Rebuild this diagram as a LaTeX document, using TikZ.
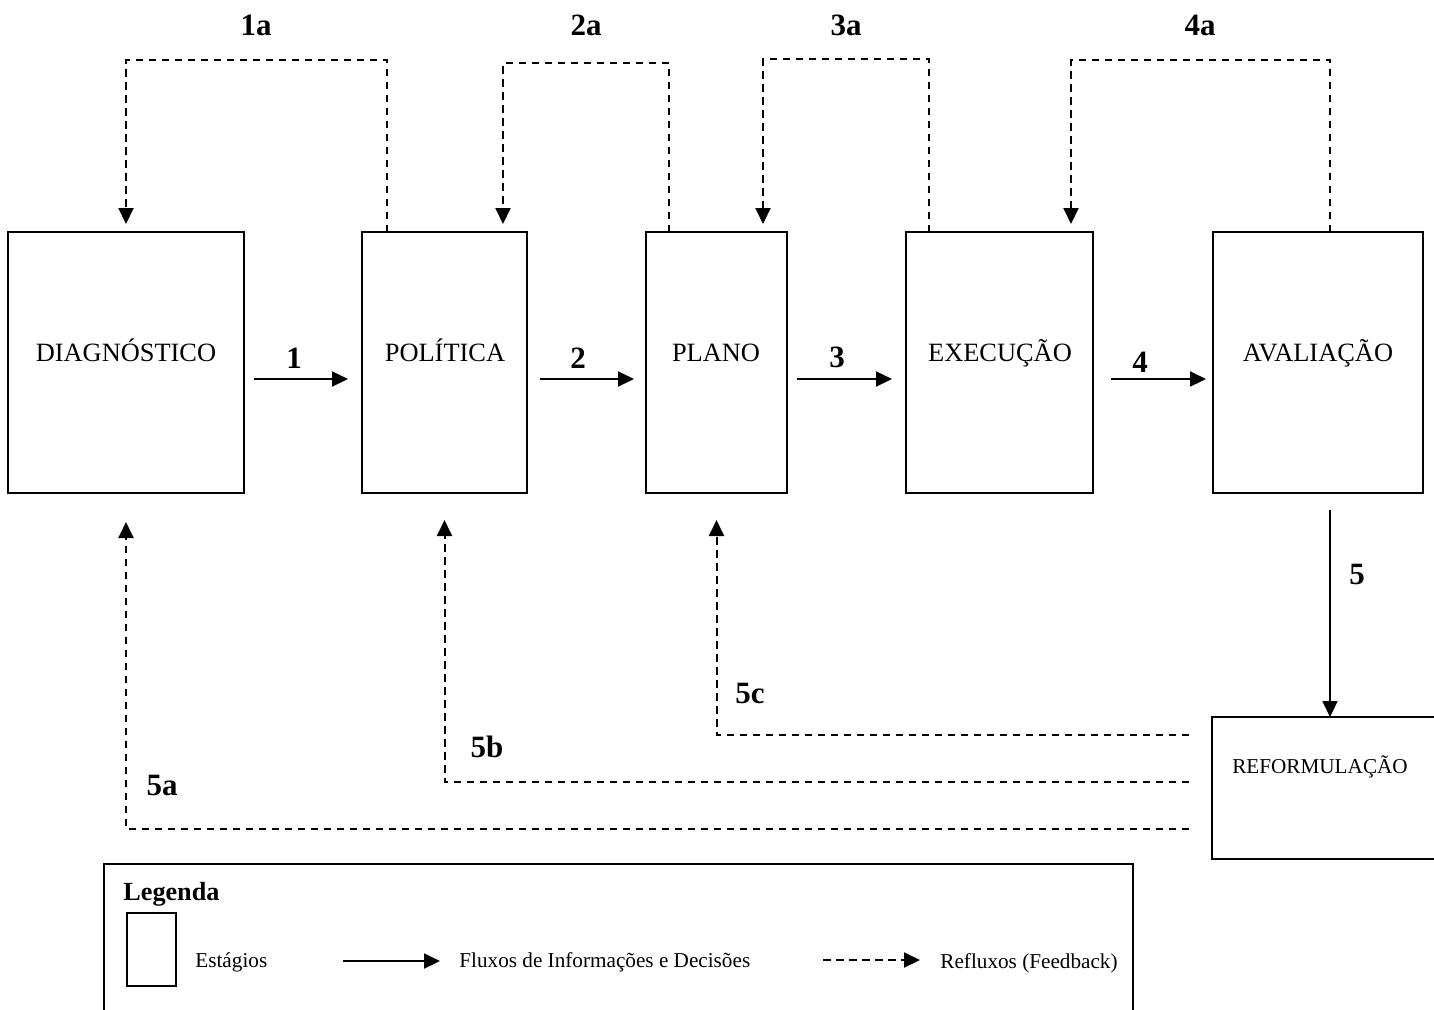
\documentclass[tikz,border=0pt]{standalone}
\usepackage{fontspec}
\setmainfont{Liberation Serif}
\usetikzlibrary{arrows.meta,calc}
\begin{document}
\begin{tikzpicture}[x=0.5pt,y=-0.5pt,
  stage/.style={draw, line width=1pt, inner sep=0pt, outer sep=0pt, rectangle},
  stagetxt/.style={font=\fontsize{13.2}{15}\selectfont, inner sep=0pt, anchor=base},
  numlbl/.style={font=\fontsize{15.5}{18}\selectfont\bfseries, inner sep=0pt, anchor=base},
  flow/.style={line width=1pt, -{Triangle[length=8pt,width=7.5pt]}},
  fb/.style={line width=1pt, dash pattern=on 3.75pt off 2.75pt, -{Triangle[length=8pt,width=7.5pt]}},
  legtxt/.style={font=\fontsize{10.6}{12.5}\selectfont, inner sep=0pt, anchor=base west}]
\useasboundingbox (0,0) rectangle (1434,1009);
\clip (0,0) rectangle (1434,1009);

% stages
\node[stage, minimum width=118pt, minimum height=130.5pt] (diag) at (126,362.5) {};
\node[stage, minimum width=82.5pt, minimum height=130.5pt] (pol) at (444.5,362.5) {};
\node[stage, minimum width=70.5pt, minimum height=130.5pt] (plano) at (716.5,362.5) {};
\node[stage, minimum width=93.5pt, minimum height=130.5pt] (exec) at (999.5,362.5) {};
\node[stage, minimum width=105pt, minimum height=130.5pt] (aval) at (1318,362.5) {};
\node[stage, minimum width=114pt, minimum height=71pt] (reform) at (1326,788) {};

\node[stagetxt] (diagT) at (126,361) {DIAGNÓSTICO};
\node[stagetxt] (polT) at (445,361) {POLÍTICA};
\node[stagetxt] (planoT) at (716,361) {PLANO};
\node[stagetxt] (execT) at (1000,361) {EXECUÇÃO};
\node[stagetxt] (avalT) at (1318,361) {AVALIAÇÃO};
\node[stagetxt, font=\fontsize{10.6}{12}\selectfont] (reformT) at (1320,773) {REFORMULAÇÃO};

% main flows
\draw[flow] ($(diag.east)+(10,16.5)$) -- ($(pol.west)+(-14,16.5)$);
\draw[flow] ($(pol.east)+(13,16.5)$) -- ($(plano.west)+(-12,16.5)$);
\draw[flow] ($(plano.east)+(10,16.5)$) -- ($(exec.west)+(-14,16.5)$);
\draw[flow] ($(exec.east)+(18,16.5)$) -- ($(aval.west)+(-7,16.5)$);
\draw[flow] ($(aval.south)+(12,17)$) -- ($(reform.north)+(4,0)$);

\node[numlbl] (l1) at (294,368) {1};
\node[numlbl] (l2) at (578,368) {2};
\node[numlbl] (l3) at (837,367) {3};
\node[numlbl] (l4) at (1140,372) {4};
\node[numlbl] (l5) at (1357,584) {5};

% top feedbacks
\draw[fb] ($(pol.north west)+(25,0)$) -- ++(0,-172) -| ($(diag.north)+(0,-8)$);
\draw[fb] ($(plano.north west)+(23,0)$) -- ++(0,-169) -| ($(pol.north)+(58.5,-8)$);
\draw[fb] ($(exec.north west)+(23,0)$) -- ++(0,-173) -| ($(plano.north)+(46.5,-8)$);
\draw[fb] ($(aval.north west)+(117,0)$) -- ++(0,-172) -| ($(exec.north)+(71.5,-8)$);

\node[numlbl] (l1a) at (256,35) {1a};
\node[numlbl] (l2a) at (586,35) {2a};
\node[numlbl] (l3a) at (846,35) {3a};
\node[numlbl] (l4a) at (1200,35) {4a};

% bottom feedbacks
\draw[fb] ($(reform.west)+(-23,-53)$) -| ($(plano.south)+(0,27)$);
\draw[fb] ($(reform.west)+(-23,-6)$) -| ($(pol.south)+(0,27)$);
\draw[fb] ($(reform.west)+(-23,41)$) -| ($(diag.south)+(0,29)$);

\node[numlbl] (l5a) at (162,795) {5a};
\node[numlbl] (l5b) at (487,757) {5b};
\node[numlbl] (l5c) at (750,703) {5c};

% legend
\node[draw, line width=1pt, inner sep=0pt, outer sep=0pt, minimum width=514.5pt, minimum height=100pt] (legend) at (618.5,964) {};
\node[font=\fontsize{13.1}{15}\selectfont\bfseries, anchor=base west, inner sep=0pt] (legT) at (123,900) {Legenda};
\node[stage, minimum width=24.5pt, minimum height=36.5pt] (legbox) at (151.5,949.5) {};
\node[legtxt] (legStage) at (195,967) {Estágios};
\coordinate (lf1) at (343,961);
\coordinate (lf2) at (440,961);
\draw[flow] (lf1) -- (lf2);
\node[legtxt] (legFlow) at (459,967) {Fluxos de Informações e Decisões};
\coordinate (lb1) at (823,960);
\coordinate (lb2) at (920,960);
\draw[fb] (lb1) -- (lb2);
\node[legtxt] (legFb) at (940,968) {Refluxos (Feedback)};
\end{tikzpicture}
\end{document}
